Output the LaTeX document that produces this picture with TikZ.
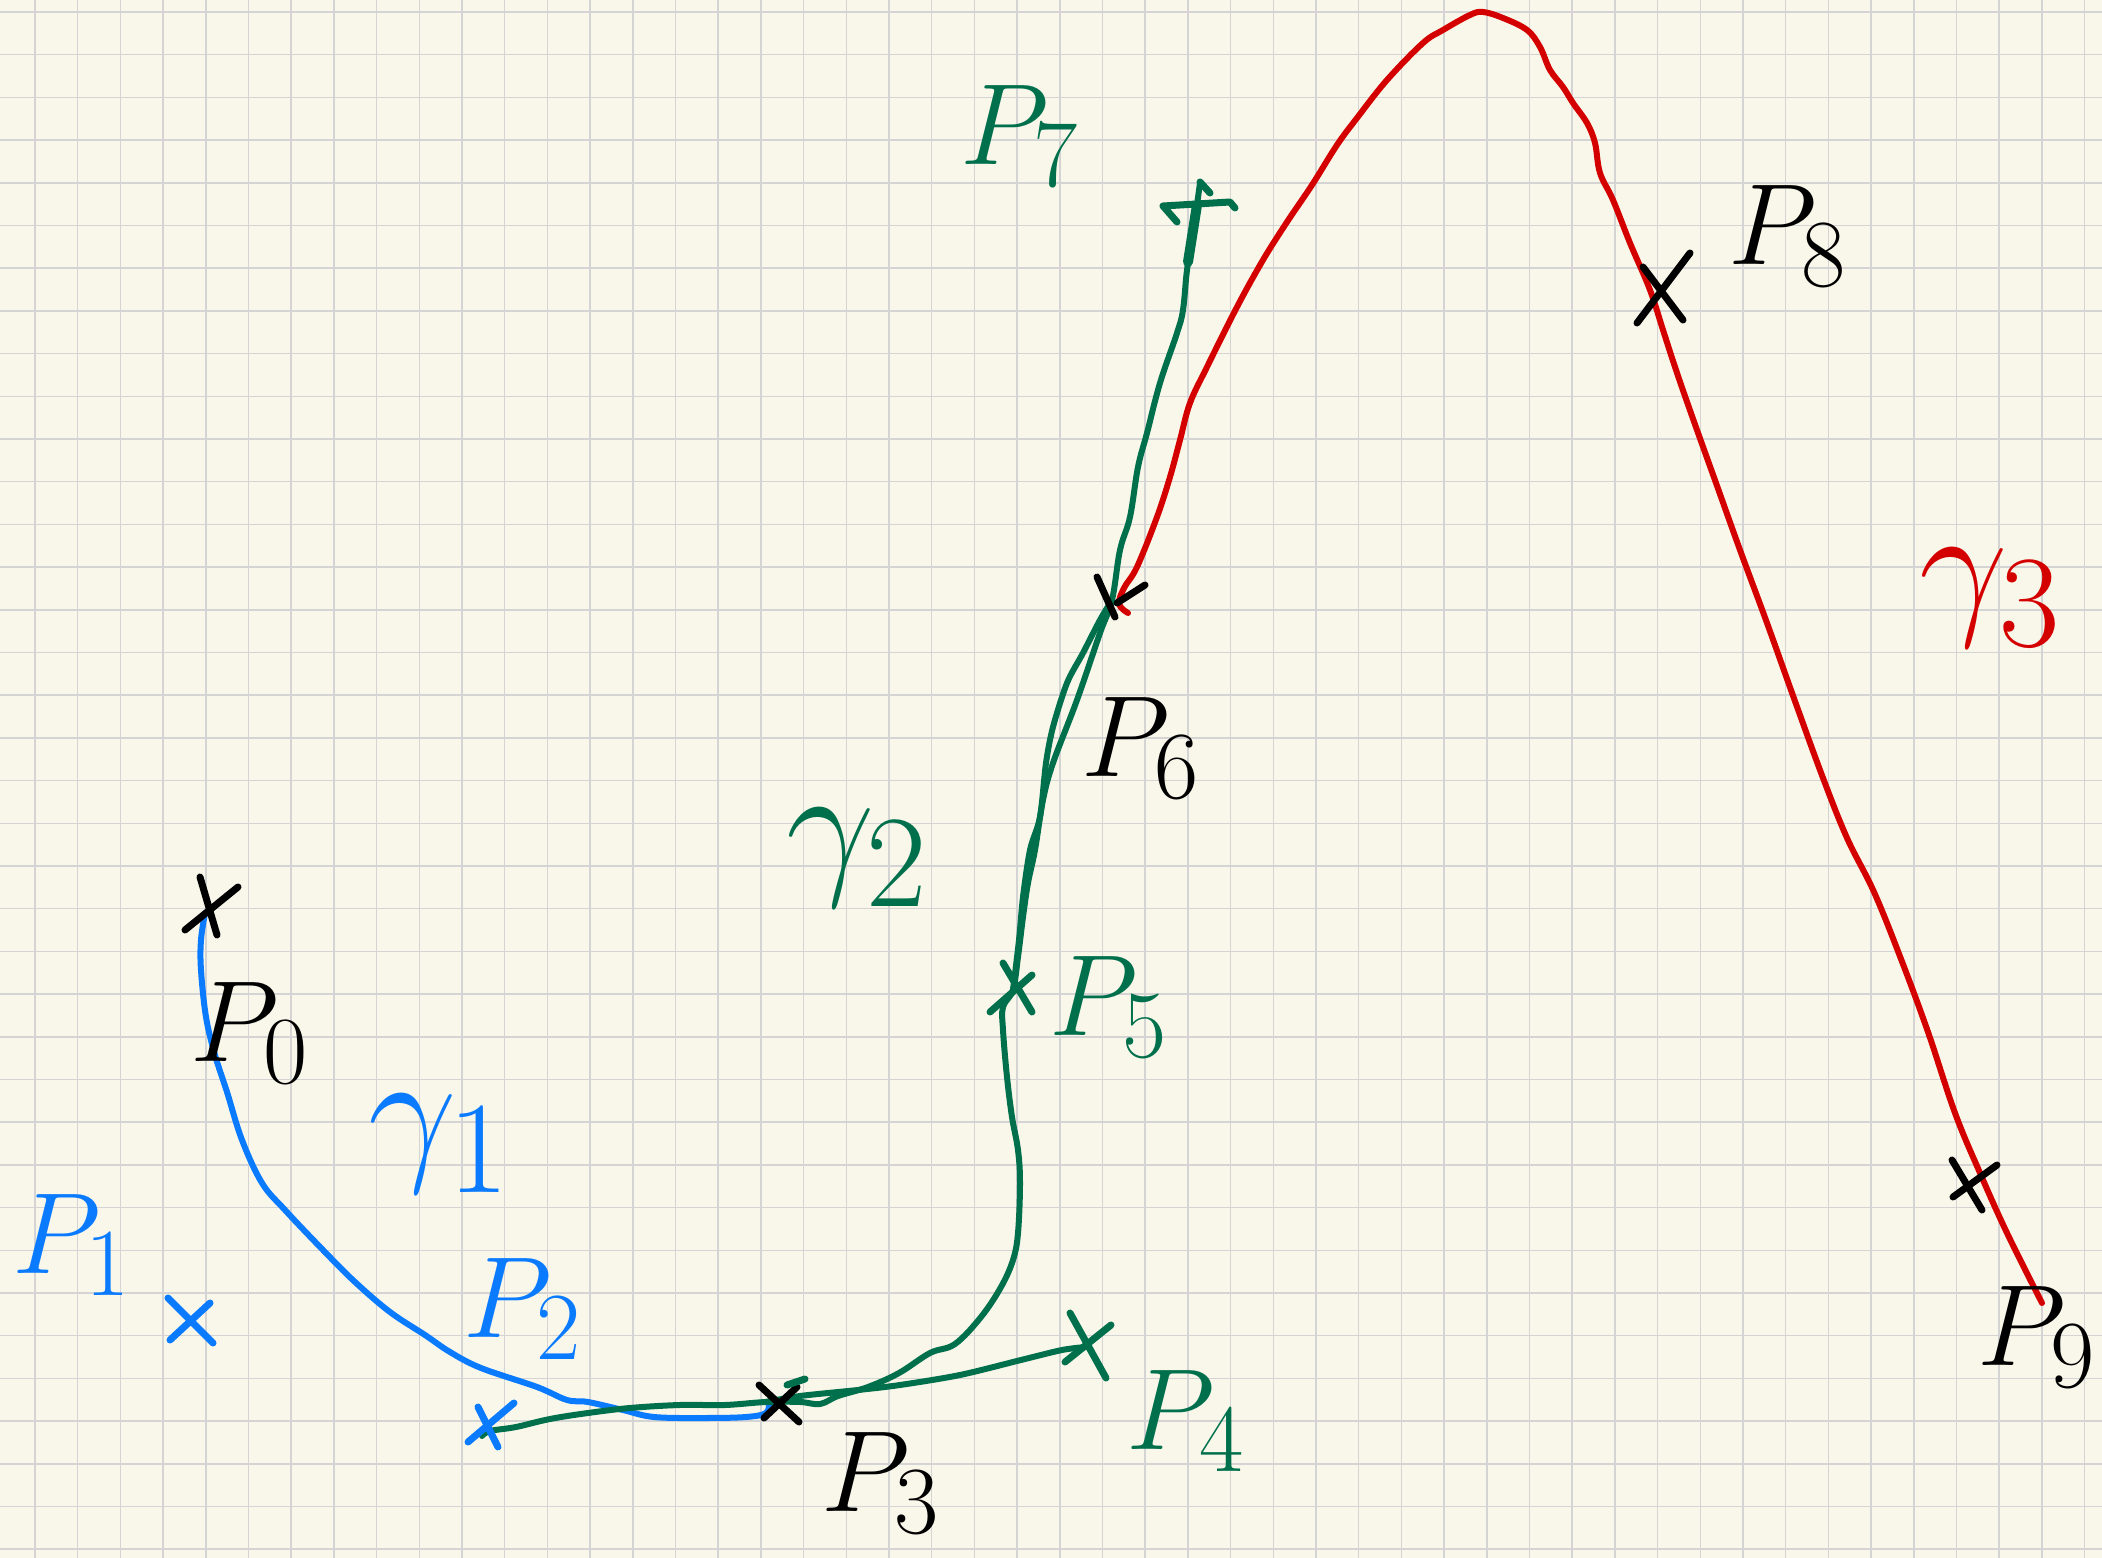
\documentclass[tikz,border=0pt]{standalone}

\definecolor{carta}{HTML}{F9F7EA}
\definecolor{griglia}{HTML}{D4D4D4}
\definecolor{blu}{HTML}{0A7AFF}
\definecolor{verde}{HTML}{00704C}
\definecolor{rosso}{HTML}{D40000}

\begin{document}
\begin{tikzpicture}[x=0.01cm, y=-0.01cm,
    tratto/.style={line width=0.06cm, line cap=round, line join=round},
    segno/.style={line width=0.07cm, line cap=round, line join=round},
    etic/.style={inner sep=0pt, font=\Huge, scale=1.32},
    etigamma/.style={inner sep=0pt, font=\Huge, scale=1.8}]

        % Foglio a quadretti
        \fill[carta] (0,0) rectangle (2102,1558);
        \useasboundingbox (0,0) rectangle (2102,1558);
        \foreach \i in {0,...,48}
            \draw[griglia, line width=0.015cm] ({35+42.7*\i},0) -- ({35+42.7*\i},1558);
        \foreach \j in {0,...,36}
            \draw[griglia, line width=0.015cm] (0,{12+42.7*\j}) -- (2102,{12+42.7*\j});

        % Punti
        \coordinate (P0) at (210,908);
        \coordinate (P1) at (190,1320);
        \coordinate (P2) at (488,1425);
        \coordinate (P3) at (779,1403);
        \coordinate (P4) at (1086,1347);
        \coordinate (P5) at (1013,990);
        \coordinate (P6) at (1112,600);
        \coordinate (P7) at (1197,205);
        \coordinate (P8) at (1658,290);
        \coordinate (P9) at (1968,1182);

        % Curva gamma_1 (blu)
        \draw[tratto, blu] plot[smooth, tension=0.6] coordinates {(205,913) (201,940) (201,970) (206,1017) (215,1055) (227,1092) (242,1140) (262,1183) (285,1210) (323,1250) (355,1282) (390,1312) (425,1335) (450,1352) (481,1368) (537,1387) (567,1400) (588,1402) (623,1410) (654,1417) (705,1418) (746,1417) (766,1413) (769,1403)};

        % Curva gamma_2 (verde)
        \draw[tratto, verde] plot[smooth, tension=0.6] coordinates {(482,1436) (490,1431) (516,1427) (550,1419) (588,1413) (630,1408) (680,1405) (725,1405) (766,1402) (800,1402) (820,1404) (838,1396) (868,1387) (899,1373) (930,1353) (955,1344) (981,1317) (1001,1287) (1013,1260) (1018,1233) (1020,1183) (1018,1150) (1012,1117) (1007,1077) (1003,1030) (1003,1007) (1013,990) (1018,957) (1023,917) (1028,883) (1035,850) (1043,800) (1053,763) (1077,700) (1100,633) (1112,600) (1120,550) (1130,517) (1138,467) (1147,433) (1160,383) (1177,333) (1183,310) (1187,270) (1193,233) (1200,183)};
        \draw[tratto, verde] plot[smooth] coordinates {(1112,600) (1100,620) (1083,653) (1067,683) (1053,727) (1046,763) (1040,817) (1030,850) (1023,897) (1019,940) (1013,990)};
        \draw[tratto, verde] plot[smooth] coordinates {(766,1402) (800,1396) (858,1390) (900,1385) (960,1375) (1021,1360) (1062,1350) (1086,1347)};
        \draw[verde, line width=0.1cm, line cap=round] (1188,262) -- (1197,205);

        % Curva gamma_3 (rossa)
        \draw[tratto, rosso] plot[smooth, tension=0.6] coordinates {(1128,613) (1119,604) (1124,588) (1137,567) (1157,517) (1170,477) (1180,440) (1190,403) (1207,367) (1237,307) (1263,260) (1287,222) (1312,185) (1337,145) (1357,118) (1387,80) (1423,43) (1443,30) (1470,15) (1483,12) (1503,18) (1527,30) (1540,47) (1550,70) (1563,87) (1573,103) (1587,123) (1595,143) (1600,173) (1613,200) (1630,243) (1650,290) (1663,330) (1676,370) (1692,416) (1716,483) (1740,550) (1767,623) (1796,704) (1823,778) (1847,838) (1874,892) (1901,959) (1928,1032) (1955,1113) (1980,1173) (2007,1233) (2042,1303)};

        % Crocette
        \draw[segno] (P0) ++(-10,-31) -- ++(17,58);
        \draw[segno] (P0) ++(28,-21) -- ++(-53,43);
        \draw[segno, blu] (P1) ++(-22,-22) -- ++(45,45);
        \draw[segno, blu] (P1) ++(20,-17) -- ++(-40,37);
        \draw[segno, blu] (P2) ++(-10,-18) -- ++(20,40);
        \draw[segno, blu] (P2) ++(26,-22) -- ++(-46,39);
        \draw[segno] (P3) ++(-20,-18) -- ++(40,37);
        \draw[segno] (P3) ++(18,-16) -- ++(-33,31);
        \draw[segno, verde] (P3) ++(8,-18) -- ++(18,-6);
        \draw[segno, verde] (P4) ++(-16,-34) -- ++(36,65);
        \draw[segno, verde] (P4) ++(25,-22) -- ++(-46,37);
        \draw[segno, verde] (P5) ++(-10,-27) -- ++(29,49);
        \draw[segno, verde] (P5) ++(-23,22) -- ++(42,-37);
        \draw[segno] (P6) ++(-15,-23) -- ++(18,40);
        \draw[segno] (P6) ++(33,-15) -- ++(-28,18);
        \draw[segno, verde] (P7) ++(-20,17) -- ++(-14,-16) -- ++(67,-4) -- ++(5,6);
        \draw[segno, verde] (P7) ++(3,-23) -- ++(10,11);
        \draw[segno] (P8) ++(-15,-23) -- ++(40,53);
        \draw[segno] (P8) ++(32,-37) -- ++(-53,70);
        \draw[segno] (P9) ++(-16,-22) -- ++(30,50);
        \draw[segno] (P9) ++(-15,15) -- ++(44,-32);

        % Etichette dei punti
        \node[etic] (l0) at (250,1033) {$P_0$};
        \node[etic, blu, anchor=west] (l1) at (12,1245) {$P_1$};
        \node[etic, blu] (l2) at (523,1309) {$P_2$};
        \node[etic] (l3) at (881,1483) {$P_3$};
        \node[etic, verde] (l4) at (1186,1421) {$P_4$};
        \node[etic, verde] (l5) at (1109,1007) {$P_5$};
        \node[etic] (l6) at (1141,748) {$P_6$};
        \node[etic, verde] (l7) at (1020,136) {$P_7$};
        \node[etic] (l8) at (1788,236) {$P_8$};
        \node[etic, anchor=east] (l9) at (2098,1337) {$P_9$};

        % Nomi delle curve
        \node[etigamma, blu] (g1) at (440,1144) {$\gamma_1$};
        \node[etigamma, verde] (g2) at (858,858) {$\gamma_2$};
        \node[etigamma, rosso] (g3) at (1991,598) {$\gamma_3$};

    \end{tikzpicture}
\end{document}
